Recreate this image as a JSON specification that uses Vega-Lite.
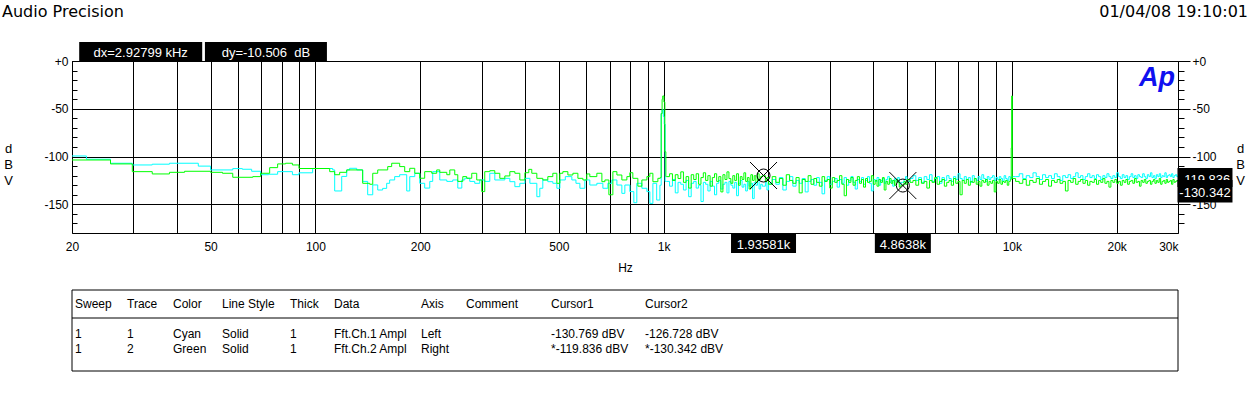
{
  "$schema": "https://vega.github.io/schema/vega-lite/v6.json",
  "width": 1106,
  "height": 172,
  "autosize": "none",
  "padding": {"left": 72, "top": 61, "right": 73, "bottom": 163},
  "background": "white",
  "config": {
    "view": {"stroke": "#000", "strokeWidth": 1},
    "font": "Liberation Sans",
    "axis": {"labelFont": "Liberation Sans", "titleFont": "Liberation Sans", "labelColor": "#000", "titleColor": "#000", "labelFontSize": 12, "titleFontSize": 13, "titleFontWeight": "normal", "tickColor": "#000", "gridColor": "#000", "gridWidth": 1}
  },
  "datasets": {
    "cursors": [
      {"n": 1, "f": 1935.81, "v": -119.836, "lab": "1.93581k", "val": "-119.836"},
      {"n": 2, "f": 4863.8, "v": -130.342, "lab": "4.8638k", "val": "-130.342"}
    ],
    "table": [
      {"r": "h", "Sweep": "Sweep", "Trace": "Trace", "Color": "Color", "LineStyle": "Line Style", "Thick": "Thick", "Data": "Data", "Axis": "Axis", "Comment": "Comment", "Cursor1": "Cursor1", "Cursor2": "Cursor2"},
      {"r": "1", "Sweep": "1", "Trace": "1", "Color": "Cyan", "LineStyle": "Solid", "Thick": "1", "Data": "Fft.Ch.1 Ampl", "Axis": "Left", "Comment": "", "Cursor1": "-130.769 dBV", "Cursor2": "-126.728 dBV"},
      {"r": "2", "Sweep": "1", "Trace": "2", "Color": "Green", "LineStyle": "Solid", "Thick": "1", "Data": "Fft.Ch.2 Ampl", "Axis": "Right", "Comment": "", "Cursor1": "*-119.836 dBV", "Cursor2": "*-130.342 dBV"}
    ],
    "fft": [
      {"f":20,"c":-99.4},{"f":22.0,"c":-102.8},{"f":25.8,"c":-107},{"f":29.8,"c":-108.8},{"f":34.0,"c":-108.0},{"f":38.1,"c":-107.0},{"f":46.1,"c":-110},{"f":50.0,"c":-114},{"f":57.9,"c":-112.6},{"f":61.7,"c":-113.3},{"f":65.6,"c":-115.4},{"f":69.6,"c":-119},{"f":73.4,"c":-118.5},{"f":77.9,"c":-115.8},{"f":85.9,"c":-119},{"f":89.7,"c":-117},{"f":98.2,"c":-112.5},{"f":112.1,"c":-114},{"f":113.6,"c":-136},{"f":119,"c":-120.8},{"f":123,"c":-114},{"f":125.4,"c":-112.3},{"f":131.4,"c":-114},{"f":136.7,"c":-126},{"f":141.3,"c":-140},{"f":146.1,"c":-129.7},{"f":151,"c":-135},{"f":156,"c":-133.3},{"f":160.2,"c":-128},{"f":163.4,"c":-124.5},{"f":168.9,"c":-121},{"f":174.6,"c":-119},{"f":182.9,"c":-136},{"f":186.6,"c":-121},{"f":192.9,"c":-117.5},{"f":199.4,"c":-128},{"f":206,"c":-133},{"f":213,"c":-126},{"f":217.2,"c":-115.8},{"f":227.6,"c":-124.5},{"f":238.4,"c":-126},{"f":248,"c":-124.5},{"f":256.4,"c":-133},{"f":263.3,"c":-124.5},{"f":268.5,"c":-122.7},{"f":277.5,"c":-126},{"f":286.8,"c":-128},{"f":296.5,"c":-124.5},{"f":306.4,"c":-126},{"f":316.8,"c":-117.5},{"f":327.5,"c":-124.5},{"f":349.9,"c":-122.8},{"f":361.7,"c":-126.3},{"f":373.9,"c":-131.5},{"f":386.4,"c":-128},{"f":399.5,"c":-122.8},{"f":413,"c":-128},{"f":432.4,"c":-142},{"f":441,"c":-133.2},{"f":449.8,"c":-124.5},{"f":465,"c":-126.3},{"f":480.6,"c":-128},{"f":493.6,"c":-133.2},{"f":503.6,"c":-124.5},{"f":522,"c":-121},{"f":545,"c":-124.5},{"f":560,"c":-128},{"f":574.8,"c":-133.2},{"f":594,"c":-124.5},{"f":613.8,"c":-129.8},{"f":643,"c":-128},{"f":669.2,"c":-133.2},{"f":691.6,"c":-128},{"f":710,"c":-124.5},{"f":734.2,"c":-129.8},{"f":758.6,"c":-138.5},{"f":773.8,"c":-129.8},{"f":799.8,"c":-136.7},{"f":821.2,"c":-148.3},{"f":837.6,"c":-128},{"f":866,"c":-133.2},{"f":895.2,"c":-136.7},{"f":913,"c":-149},{"f":931.4,"c":-128},{"f":955,"c":-145.5},{"f":975.6,"c":-130},{"f":984,"c":-55},{"f":990,"c":-51},{"f":998,"c":-58},{"f":1004,"c":-66},{"f":1010,"c":-126},
      {"f":20,"g":-103.6},{"f":25.8,"g":-107.7},{"f":29.8,"g":-115.8},{"f":34.0,"g":-118.2},{"f":38.1,"g":-116.5},{"f":42.1,"g":-115.4},{"f":50.0,"g":-116.5},{"f":54.1,"g":-117.5},{"f":57.9,"g":-121.7},{"f":66.1,"g":-121},{"f":69.6,"g":-117.5},{"f":73.9,"g":-111.6},{"f":77.9,"g":-107.7},{"f":82.1,"g":-107},{"f":85.9,"g":-108.8},{"f":89.7,"g":-112.5},{"f":109.9,"g":-115.8},{"f":113.6,"g":-119},{"f":117.4,"g":-116.5},{"f":123,"g":-114},{"f":136.7,"g":-128},{"f":143.2,"g":-129},{"f":146.1,"g":-117.5},{"f":151,"g":-114},{"f":161.3,"g":-110.5},{"f":165.6,"g":-107},{"f":174.6,"g":-110.5},{"f":180.5,"g":-115.8},{"f":186.6,"g":-112.3},{"f":192.9,"g":-117.5},{"f":199.4,"g":-122.7},{"f":206,"g":-115.8},{"f":215.8,"g":-117.5},{"f":223,"g":-114},{"f":227.6,"g":-116.5},{"f":238.4,"g":-119},{"f":243.2,"g":-114},{"f":251.3,"g":-119},{"f":256.4,"g":-126},{"f":265,"g":-121},{"f":272,"g":-122.7},{"f":281.2,"g":-117.5},{"f":290.6,"g":-124.5},{"f":300.4,"g":-136.7},{"f":306.4,"g":-115.8},{"f":316.8,"g":-114.8},{"f":327.5,"g":-117.5},{"f":338.5,"g":-122.8},{"f":349.9,"g":-120.3},{"f":361.7,"g":-115.8},{"f":373.9,"g":-117.5},{"f":386.4,"g":-124.5},{"f":399.5,"g":-116.9},{"f":410,"g":-113.4},{"f":418.2,"g":-117.5},{"f":432.4,"g":-122.8},{"f":449.8,"g":-124.5},{"f":465,"g":-121},{"f":480.6,"g":-117.5},{"f":493.6,"g":-128},{"f":503.6,"g":-117.5},{"f":513.6,"g":-115.8},{"f":530.9,"g":-119.3},{"f":548.8,"g":-117.5},{"f":567.3,"g":-122.8},{"f":586.3,"g":-124.5},{"f":601.8,"g":-118.2},{"f":613.8,"g":-121},{"f":643,"g":-117.5},{"f":664.8,"g":-126.3},{"f":678.2,"g":-124.5},{"f":696.2,"g":-140},{"f":714.9,"g":-115.8},{"f":734.2,"g":-119.3},{"f":758.6,"g":-124.5},{"f":784.2,"g":-121},{"f":799.8,"g":-116.9},{"f":815.8,"g":-122.8},{"f":843.4,"g":-131},{"f":866,"g":-124.5},{"f":895.2,"g":-121},{"f":913,"g":-117.5},{"f":931.4,"g":-126.3},{"f":962.6,"g":-122.8},{"f":978,"g":-122},{"f":984,"g":-55},{"f":990,"g":-40},{"f":994,"g":-36.6},{"f":1002,"g":-43},{"f":1008,"g":-95},{"f":1015,"g":-121},
      {"f":1020,"c":-126,"g":-121},{"f":1040,"c":-131,"g":-118},{"f":1060,"c":-124,"g":-125},{"f":1080,"c":-138,"g":-119},{"f":1100,"c":-127,"g":-123},{"f":1120,"c":-129,"g":-116},{"f":1140,"c":-135,"g":-127},{"f":1160,"c":-125,"g":-121},{"f":1180,"c":-142,"g":-133},{"f":1200,"c":-128,"g":-119},{"f":1220,"c":-126,"g":-124},{"f":1240,"c":-133,"g":-118},{"f":1260,"c":-130,"g":-129},{"f":1280,"c":-147,"g":-122},{"f":1300,"c":-127,"g":-117},{"f":1320,"c":-129,"g":-125},{"f":1340,"c":-136,"g":-120},{"f":1360,"c":-126,"g":-131},{"f":1380,"c":-131,"g":-122},{"f":1400,"c":-140,"g":-118},{"f":1420,"c":-128,"g":-126},{"f":1440,"c":-125,"g":-121},{"f":1460,"c":-134,"g":-137},{"f":1480,"c":-129,"g":-119},{"f":1500,"c":-127,"g":-124},{"f":1520,"c":-138,"g":-116},{"f":1540,"c":-126,"g":-123},{"f":1560,"c":-130,"g":-128},{"f":1580,"c":-133,"g":-120},{"f":1600,"c":-127,"g":-125},{"f":1620,"c":-141,"g":-118},{"f":1640,"c":-128,"g":-130},{"f":1660,"c":-125,"g":-121},{"f":1680,"c":-132,"g":-124},{"f":1700,"c":-129,"g":-117},{"f":1720,"c":-136,"g":-126},{"f":1740,"c":-126,"g":-122},{"f":1760,"c":-131,"g":-134},{"f":1780,"c":-128,"g":-119},{"f":1800,"c":-144,"g":-125},{"f":1820,"c":-127,"g":-120},{"f":1840,"c":-130,"g":-127},{"f":1860,"c":-125,"g":-118},{"f":1880,"c":-134,"g":-124},{"f":1900,"c":-129,"g":-121},{"f":1920,"c":-131,"g":-120},{"f":1940,"c":-131,"g":-120},{"f":1960,"c":-127,"g":-126},{"f":1980,"c":-135,"g":-122},{"f":2000,"c":-128,"g":-129},
      {"f":2050,"c":-124,"g":-121},{"f":2100,"c":-129,"g":-127},{"f":2150,"c":-122,"g":-123},{"f":2200,"c":-135,"g":-130},{"f":2250,"c":-126,"g":-119},{"f":2300,"c":-121,"g":-125},{"f":2350,"c":-131,"g":-128},{"f":2400,"c":-125,"g":-122},{"f":2450,"c":-128,"g":-138},{"f":2500,"c":-123,"g":-124},{"f":2550,"c":-137,"g":-126},{"f":2600,"c":-126,"g":-120},{"f":2650,"c":-124,"g":-129},{"f":2700,"c":-130,"g":-123},{"f":2750,"c":-122,"g":-127},{"f":2800,"c":-127,"g":-131},{"f":2850,"c":-139,"g":-121},{"f":2900,"c":-125,"g":-126},{"f":2950,"c":-121,"g":-124},{"f":3000,"c":-129,"g":-133},{"f":3050,"c":-126,"g":-122},{"f":3100,"c":-123,"g":-127},{"f":3150,"c":-132,"g":-125},{"f":3200,"c":-124,"g":-120},{"f":3250,"c":-128,"g":-129},{"f":3300,"c":-122,"g":-141},{"f":3350,"c":-130,"g":-124},{"f":3400,"c":-125,"g":-127},{"f":3450,"c":-121,"g":-122},{"f":3500,"c":-127,"g":-130},{"f":3550,"c":-134,"g":-125},{"f":3600,"c":-124,"g":-121},{"f":3650,"c":-126,"g":-128},{"f":3700,"c":-122,"g":-124},{"f":3750,"c":-129,"g":-132},{"f":3800,"c":-125,"g":-123},{"f":3850,"c":-121,"g":-127},{"f":3900,"c":-128,"g":-126},{"f":3950,"c":-136,"g":-120},{"f":4000,"c":-124,"g":-129},{"f":4050,"c":-126,"g":-125},{"f":4100,"c":-122,"g":-131},{"f":4150,"c":-130,"g":-124},{"f":4200,"c":-125,"g":-127},{"f":4250,"c":-123,"g":-122},{"f":4300,"c":-128,"g":-135},{"f":4350,"c":-124,"g":-126},{"f":4400,"c":-121,"g":-129},{"f":4450,"c":-127,"g":-123},{"f":4500,"c":-125,"g":-128},{"f":4550,"c":-131,"g":-125},{"f":4600,"c":-123,"g":-130},{"f":4650,"c":-126,"g":-124},{"f":4700,"c":-122,"g":-127},{"f":4750,"c":-129,"g":-132},{"f":4800,"c":-127,"g":-130},{"f":4850,"c":-127,"g":-130},{"f":4900,"c":-124,"g":-126},{"f":4950,"c":-121,"g":-129},{"f":5000,"c":-126,"g":-124},
      {"f":5100,"c":-123,"g":-127},{"f":5200,"c":-120,"g":-125},{"f":5300,"c":-125,"g":-130},{"f":5400,"c":-122,"g":-124},{"f":5500,"c":-127,"g":-128},{"f":5600,"c":-121,"g":-126},{"f":5700,"c":-124,"g":-133},{"f":5800,"c":-119,"g":-125},{"f":5900,"c":-126,"g":-127},{"f":6000,"c":-123,"g":-122},{"f":6100,"c":-121,"g":-129},{"f":6200,"c":-128,"g":-126},{"f":6300,"c":-122,"g":-124},{"f":6400,"c":-125,"g":-131},{"f":6500,"c":-120,"g":-127},{"f":6600,"c":-123,"g":-125},{"f":6700,"c":-126,"g":-130},{"f":6800,"c":-121,"g":-123},{"f":6900,"c":-124,"g":-128},{"f":7000,"c":-118,"g":-126},{"f":7100,"c":-123,"g":-140},{"f":7200,"c":-125,"g":-125},{"f":7300,"c":-121,"g":-128},{"f":7400,"c":-124,"g":-124},{"f":7500,"c":-122,"g":-130},{"f":7600,"c":-127,"g":-126},{"f":7700,"c":-120,"g":-127},{"f":7800,"c":-123,"g":-123},{"f":7900,"c":-125,"g":-129},{"f":8000,"c":-121,"g":-126},{"f":8100,"c":-124,"g":-131},{"f":8200,"c":-119,"g":-125},{"f":8300,"c":-123,"g":-127},{"f":8400,"c":-126,"g":-124},{"f":8500,"c":-121,"g":-130},{"f":8600,"c":-124,"g":-126},{"f":8700,"c":-122,"g":-128},{"f":8800,"c":-120,"g":-125},{"f":8900,"c":-125,"g":-137},{"f":9000,"c":-122,"g":-126},{"f":9100,"c":-124,"g":-128},{"f":9200,"c":-121,"g":-124},{"f":9300,"c":-123,"g":-129},{"f":9400,"c":-126,"g":-126},{"f":9500,"c":-120,"g":-127},{"f":9600,"c":-123,"g":-125},{"f":9700,"c":-125,"g":-130},{"f":9800,"c":-121,"g":-126},{"f":9900,"c":-123,"g":-124},{"f":9960,"c":-122,"g":-91},{"f":9990,"c":-122,"g":-36.6},{"f":10030,"c":-121,"g":-123},
      {"f":10250,"c":-121,"g":-126},{"f":10500,"c":-118,"g":-128},{"f":10750,"c":-123,"g":-124},{"f":11000,"c":-120,"g":-130},{"f":11250,"c":-122,"g":-125},{"f":11500,"c":-117,"g":-127},{"f":11750,"c":-121,"g":-123},{"f":12000,"c":-124,"g":-129},{"f":12250,"c":-119,"g":-126},{"f":12500,"c":-122,"g":-124},{"f":12750,"c":-120,"g":-131},{"f":13000,"c":-123,"g":-125},{"f":13250,"c":-118,"g":-127},{"f":13500,"c":-121,"g":-124},{"f":13750,"c":-125,"g":-128},{"f":14000,"c":-120,"g":-126},{"f":14250,"c":-122,"g":-136},{"f":14500,"c":-119,"g":-125},{"f":14750,"c":-123,"g":-127},{"f":15000,"c":-121,"g":-123},{"f":15250,"c":-117,"g":-129},{"f":15500,"c":-122,"g":-126},{"f":15750,"c":-120,"g":-124},{"f":16000,"c":-124,"g":-128},{"f":16250,"c":-121,"g":-125},{"f":16500,"c":-118,"g":-130},{"f":16750,"c":-122,"g":-126},{"f":17000,"c":-120,"g":-127},{"f":17250,"c":-123,"g":-124},{"f":17500,"c":-119,"g":-129},{"f":17750,"c":-121,"g":-125},{"f":18000,"c":-124,"g":-127},{"f":18250,"c":-120,"g":-123},{"f":18500,"c":-122,"g":-128},{"f":18750,"c":-118,"g":-126},{"f":19000,"c":-121,"g":-132},{"f":19250,"c":-123,"g":-125},{"f":19500,"c":-120,"g":-127},{"f":19750,"c":-122,"g":-124},{"f":20000,"c":-117,"g":-128},{"f":20250,"c":-121,"g":-126},{"f":20500,"c":-123,"g":-130},{"f":20750,"c":-119,"g":-125},{"f":21000,"c":-122,"g":-127},{"f":21250,"c":-120,"g":-124},{"f":21500,"c":-124,"g":-129},{"f":21750,"c":-121,"g":-126},{"f":22000,"c":-118,"g":-125},{"f":22250,"c":-122,"g":-128},{"f":22500,"c":-120,"g":-123},{"f":22750,"c":-123,"g":-127},{"f":23000,"c":-119,"g":-126},{"f":23250,"c":-121,"g":-131},{"f":23500,"c":-122,"g":-125},{"f":23750,"c":-118,"g":-127},{"f":24000,"c":-121,"g":-124},{"f":24250,"c":-123,"g":-128},{"f":24500,"c":-119,"g":-126},{"f":24750,"c":-121,"g":-125},{"f":25000,"c":-117,"g":-129},{"f":25250,"c":-122,"g":-126},{"f":25500,"c":-120,"g":-124},{"f":25750,"c":-123,"g":-128},{"f":26000,"c":-119,"g":-125},{"f":26250,"c":-121,"g":-127},{"f":26500,"c":-118,"g":-123},{"f":26750,"c":-122,"g":-129},{"f":27000,"c":-120,"g":-126},{"f":27250,"c":-121,"g":-125},{"f":27500,"c":-117,"g":-128},{"f":27750,"c":-122,"g":-124},{"f":28000,"c":-120,"g":-127},{"f":28250,"c":-119,"g":-126},{"f":28500,"c":-121,"g":-125},{"f":28750,"c":-118,"g":-129},{"f":29000,"c":-122,"g":-124},{"f":29250,"c":-120,"g":-127},{"f":29500,"c":-119,"g":-126},{"f":29750,"c":-121,"g":-125},{"f":30000,"c":-120,"g":-126}
    ]
  },
  "layer": [
    {
      "resolve": {"axis": {"y": "independent"}},
      "layer": [
        {
          "data": {"name": "fft"},
          "mark": {"type": "line", "interpolate": "step-after", "color": "#00ffff", "strokeWidth": 1, "invalid": "filter"},
          "encoding": {
            "x": {"field": "f", "type": "quantitative",
              "scale": {"type": "log", "domain": [20, 30000], "nice": false},
              "axis": {
                "values": [20,30,40,50,60,70,80,90,100,200,300,400,500,600,700,800,900,1000,2000,3000,4000,5000,6000,7000,8000,9000,10000,20000,30000],
                "grid": true, "gridOpacity": 1, "ticks": false, "domain": false,
                "labelExpr": "indexof([20,50,100,200,500], datum.value) >= 0 ? '' + datum.value : (indexof([1000,10000,20000,30000], datum.value) >= 0 ? (datum.value / 1000) + 'k' : '')",
                "labelPadding": 8, "labelOverlap": false, "labelBound": false, "labelFlush": false,
                "labelAlign": {"condition": {"test": "datum.value >= 30000", "value": "right"}, "value": "center"},
                "title": "Hz", "titleY": 29, "titleBaseline": "top", "titleFontSize": 12
              }
            },
            "y": {"field": "c", "type": "quantitative",
              "scale": {"domain": [-180, 0], "nice": false},
              "axis": {
                "orient": "left",
                "values": [0,-10,-20,-30,-40,-50,-60,-70,-80,-90,-100,-110,-120,-130,-140,-150,-160,-170],
                "grid": true,
                "gridOpacity": {"condition": {"test": "datum.value % 50 === 0", "value": 1}, "value": 0},
                "tickSize": -5, "domain": false,
                "labelExpr": "datum.value === 0 ? '+0' : (datum.value % 50 === 0 ? '' + datum.value : '')",
                "labelPadding": 9, "labelBound": false, "labelOverlap": false, "labelFlush": false,
                "title": ["d", "B", "V"], "titleAngle": 0, "titleX": -64, "titleY": 87,
                "titleAlign": "center", "titleBaseline": "middle", "titleLineHeight": 16
              }
            }
          }
        },
        {
          "data": {"name": "fft"},
          "mark": {"type": "line", "interpolate": "step-after", "color": "#00ff00", "strokeWidth": 1, "invalid": "filter"},
          "encoding": {
            "x": {"field": "f", "type": "quantitative"},
            "y": {"field": "g", "type": "quantitative",
              "axis": {
                "orient": "right",
                "values": [0,-10,-20,-30,-40,-50,-60,-70,-80,-90,-100,-110,-120,-130,-140,-150,-160,-170],
                "grid": false,
                "tickSize": {"condition": {"test": "datum.value % 50 === 0", "value": 12}, "value": 6},
                "domain": false,
                "labelExpr": "datum.value === 0 ? '+0' : (datum.value % 50 === 0 ? '' + datum.value : '')",
                "labelPadding": 2, "labelAlign": "left", "labelBound": false, "labelOverlap": false, "labelFlush": false,
                "title": ["d", "B", "V"], "titleAngle": 0, "titleX": 62, "titleY": 87,
                "titleAlign": "center", "titleBaseline": "middle", "titleLineHeight": 16
              }
            }
          }
        },
        {
          "data": {"name": "cursors"},
          "encoding": {
            "x": {"field": "f", "type": "quantitative"},
            "y": {"field": "v", "type": "quantitative", "axis": null}
          },
          "layer": [
            {"mark": {"type": "point", "shape": "circle", "size": 169, "filled": false, "stroke": "#000", "strokeWidth": 1, "opacity": 1}},
            {"mark": {"type": "point", "shape": "M-1,-1L1,1M-1,1L1,-1", "size": 729, "filled": false, "stroke": "#000", "strokeWidth": 1, "opacity": 1}}
          ]
        },
        {
          "data": {"name": "cursors"},
          "transform": [{"filter": "datum.n === 1"}],
          "layer": [
            {"mark": {"type": "point", "shape": "M-1,-0.29L1,-0.29L1,0.29L-1,0.29Z", "size": 4225, "filled": true, "fill": "#000", "strokeWidth": 0, "opacity": 1},
             "encoding": {"x": {"field": "f", "type": "quantitative"}, "y": {"datum": -191, "type": "quantitative", "axis": null}}},
            {"mark": {"type": "text", "color": "#fff", "fontSize": 13, "baseline": "middle", "align": "center", "dy": 1},
             "encoding": {"x": {"field": "f", "type": "quantitative"}, "y": {"datum": -191, "type": "quantitative", "axis": null}, "text": {"field": "lab"}}},
            {"mark": {"type": "point", "shape": "M-1,-0.273L1,-0.273L1,0.418L-1,0.418Z", "size": 3025, "filled": true, "fill": "#000", "strokeWidth": 0, "opacity": 1},
             "encoding": {"x": {"datum": 35860, "type": "quantitative"}, "y": {"field": "v", "type": "quantitative", "axis": null}}},
            {"mark": {"type": "text", "color": "#fff", "fontSize": 13, "baseline": "middle", "align": "center", "dy": 4.5},
             "encoding": {"x": {"datum": 35860, "type": "quantitative"}, "y": {"field": "v", "type": "quantitative", "axis": null}, "text": {"field": "val"}}}
          ]
        },
        {
          "data": {"name": "cursors"},
          "transform": [{"filter": "datum.n === 2"}],
          "layer": [
            {"mark": {"type": "point", "shape": "M-1,-0.339L1,-0.339L1,0.339L-1,0.339Z", "size": 3136, "filled": true, "fill": "#000", "strokeWidth": 0, "opacity": 1},
             "encoding": {"x": {"field": "f", "type": "quantitative"}, "y": {"datum": -191, "type": "quantitative", "axis": null}}},
            {"mark": {"type": "text", "color": "#fff", "fontSize": 13, "baseline": "middle", "align": "center", "dy": 1},
             "encoding": {"x": {"field": "f", "type": "quantitative"}, "y": {"datum": -191, "type": "quantitative", "axis": null}, "text": {"field": "lab"}}},
            {"mark": {"type": "point", "shape": "M-1,-0.2L1,-0.2L1,0.618L-1,0.618Z", "size": 3025, "filled": true, "fill": "#000", "strokeWidth": 0, "opacity": 1},
             "encoding": {"x": {"datum": 35860, "type": "quantitative"}, "y": {"field": "v", "type": "quantitative", "axis": null}}},
            {"mark": {"type": "text", "color": "#fff", "fontSize": 13, "baseline": "middle", "align": "center", "dy": 7},
             "encoding": {"x": {"datum": 35860, "type": "quantitative"}, "y": {"field": "v", "type": "quantitative", "axis": null}, "text": {"field": "val"}}}
          ]
        },
        {
          "data": {"values": [{"t": "dx=2.92799 kHz"}]},
          "encoding": {"x": {"datum": 31.5, "type": "quantitative"}, "y": {"datum": 9.94, "type": "quantitative", "axis": null}},
          "layer": [
            {"mark": {"type": "point", "shape": "M-1,-0.155L1,-0.155L1,0.155L-1,0.155Z", "size": 15129, "filled": true, "fill": "#000", "strokeWidth": 0, "opacity": 1}},
            {"mark": {"type": "text", "color": "#fff", "fontSize": 13, "baseline": "middle", "align": "center", "dy": 1}, "encoding": {"text": {"field": "t"}}}
          ]
        },
        {
          "data": {"values": [{"t": "dy=-10.506\u00a0 dB"}]},
          "encoding": {"x": {"datum": 72.1, "type": "quantitative"}, "y": {"datum": 9.94, "type": "quantitative", "axis": null}},
          "layer": [
            {"mark": {"type": "point", "shape": "M-1,-0.156L1,-0.156L1,0.156L-1,0.156Z", "size": 14884, "filled": true, "fill": "#000", "strokeWidth": 0, "opacity": 1}},
            {"mark": {"type": "text", "color": "#fff", "fontSize": 13, "baseline": "middle", "align": "center", "dy": 1}, "encoding": {"text": {"field": "t"}}}
          ]
        },
        {
          "data": {"values": [{"t": "Ap"}]},
          "mark": {"type": "text", "color": "#1010f0", "fontSize": 27, "fontWeight": "bold", "fontStyle": "italic", "align": "right", "baseline": "alphabetic"},
          "encoding": {"x": {"datum": 29420, "type": "quantitative"}, "y": {"datum": -26, "type": "quantitative", "axis": null}, "text": {"field": "t"}}
        },
        {
          "data": {"values": [{"t": "Audio Precision"}]},
          "mark": {"type": "text", "color": "#000", "font": "DejaVu Sans", "fontSize": 16, "align": "left", "baseline": "alphabetic"},
          "encoding": {"x": {"datum": 12.59, "type": "quantitative"}, "y": {"datum": 45.7, "type": "quantitative", "axis": null}, "text": {"field": "t"}}
        },
        {
          "data": {"values": [{"t": "01/04/08 19:10:01"}]},
          "mark": {"type": "text", "color": "#000", "font": "DejaVu Sans", "fontSize": 16, "align": "right", "baseline": "alphabetic"},
          "encoding": {"x": {"datum": 47672, "type": "quantitative"}, "y": {"datum": 45.7, "type": "quantitative", "axis": null}, "text": {"field": "t"}}
        }
      ]
    },
    {
      "data": {"values": [{}]},
      "encoding": {
        "x": {"datum": 0, "type": "quantitative", "scale": {"domain": [0, 1], "nice": false}, "axis": null},
        "x2": {"datum": 1}
      },
      "layer": [
        {"mark": {"type": "rect", "fill": null, "stroke": "#000", "strokeWidth": 1},
         "encoding": {"y": {"datum": 0, "type": "quantitative", "scale": {"domain": [0, 1], "range": [229, 310], "nice": false}, "axis": null}, "y2": {"datum": 1}}},
        {"mark": {"type": "rule", "color": "#000", "strokeWidth": 1},
         "encoding": {"y": {"datum": 0.3457, "type": "quantitative", "axis": null}}}
      ]
    },
    {
      "data": {"name": "table"},
      "encoding": {
        "y": {"field": "r", "type": "ordinal", "scale": {"type": "point", "domain": ["h", "g", "1", "2"], "range": [243, 288], "padding": 0}, "axis": null}
      },
      "layer": [
        {"mark": {"type": "text", "align": "left", "baseline": "middle", "fontSize": 12, "color": "#000"}, "encoding": {"x": {"datum": 3, "type": "quantitative", "scale": {"domain": [0, 1106], "nice": false}, "axis": null}, "text": {"field": "Sweep"}}},
        {"mark": {"type": "text", "align": "left", "baseline": "middle", "fontSize": 12, "color": "#000"}, "encoding": {"x": {"datum": 55, "type": "quantitative"}, "text": {"field": "Trace"}}},
        {"mark": {"type": "text", "align": "left", "baseline": "middle", "fontSize": 12, "color": "#000"}, "encoding": {"x": {"datum": 101, "type": "quantitative"}, "text": {"field": "Color"}}},
        {"mark": {"type": "text", "align": "left", "baseline": "middle", "fontSize": 12, "color": "#000"}, "encoding": {"x": {"datum": 150, "type": "quantitative"}, "text": {"field": "LineStyle"}}},
        {"mark": {"type": "text", "align": "left", "baseline": "middle", "fontSize": 12, "color": "#000"}, "encoding": {"x": {"datum": 218, "type": "quantitative"}, "text": {"field": "Thick"}}},
        {"mark": {"type": "text", "align": "left", "baseline": "middle", "fontSize": 12, "color": "#000"}, "encoding": {"x": {"datum": 262, "type": "quantitative"}, "text": {"field": "Data"}}},
        {"mark": {"type": "text", "align": "left", "baseline": "middle", "fontSize": 12, "color": "#000"}, "encoding": {"x": {"datum": 349, "type": "quantitative"}, "text": {"field": "Axis"}}},
        {"mark": {"type": "text", "align": "left", "baseline": "middle", "fontSize": 12, "color": "#000"}, "encoding": {"x": {"datum": 394, "type": "quantitative"}, "text": {"field": "Comment"}}},
        {"mark": {"type": "text", "align": "left", "baseline": "middle", "fontSize": 12, "color": "#000"}, "encoding": {"x": {"datum": 479, "type": "quantitative"}, "text": {"field": "Cursor1"}}},
        {"mark": {"type": "text", "align": "left", "baseline": "middle", "fontSize": 12, "color": "#000"}, "encoding": {"x": {"datum": 573, "type": "quantitative"}, "text": {"field": "Cursor2"}}}
      ]
    }
  ],
  "resolve": {"scale": {"x": "independent", "y": "independent"}}
}
